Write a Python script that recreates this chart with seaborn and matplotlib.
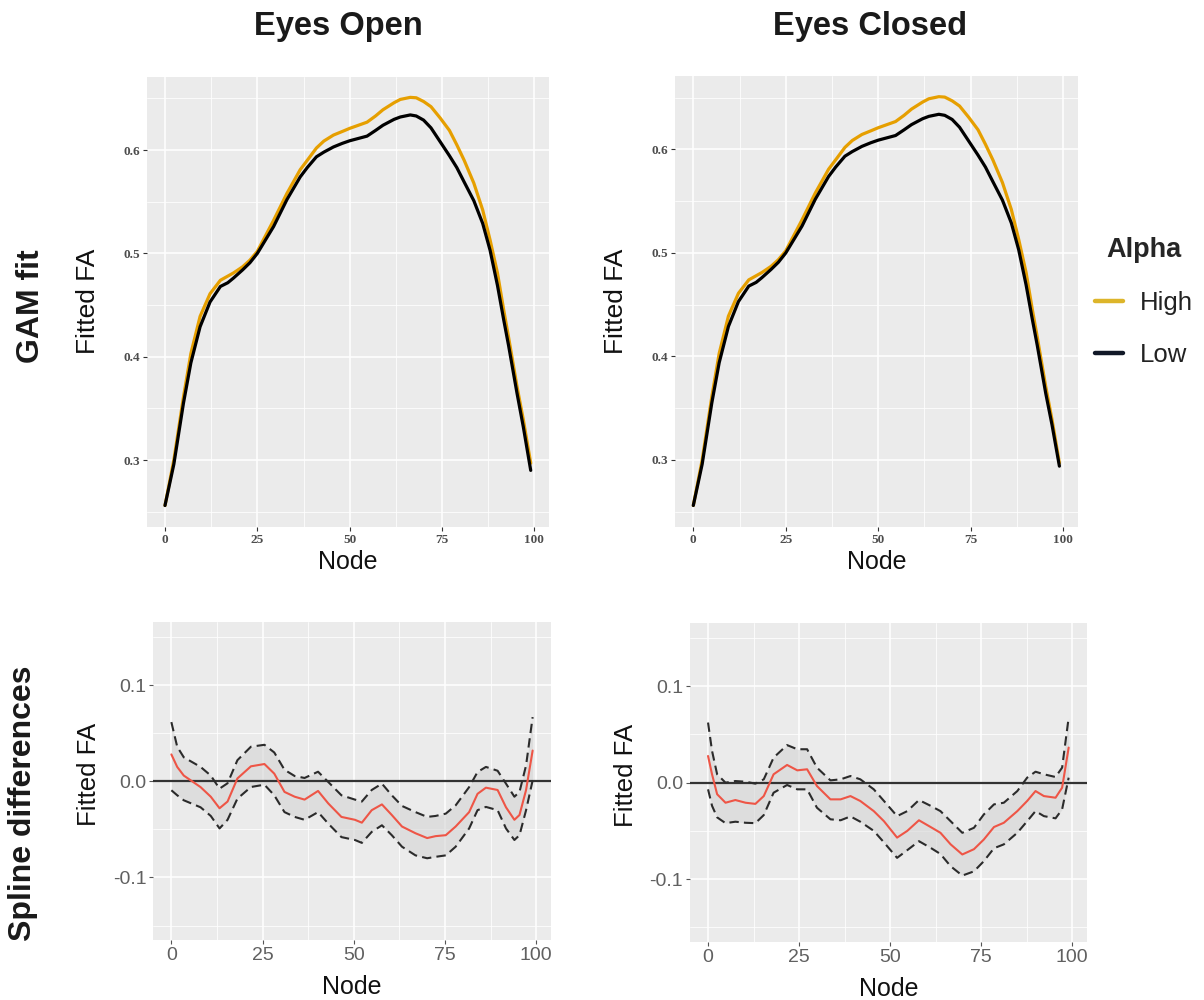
import numpy as np
import pandas as pd
import matplotlib
matplotlib.use("Agg")
import matplotlib.pyplot as plt
from matplotlib.lines import Line2D
from matplotlib.ticker import MultipleLocator
import seaborn as sns

# ---- GAM fits of FA along the tract (High vs Low alpha) ----
node_gam = [0, 2.4, 5, 7, 9.5, 12.2, 15, 17, 18.5, 21, 23, 25, 29.4, 33, 36.6, 38.5,
            41, 43, 45.6, 48, 50, 54.7, 57, 59, 62, 63.7, 66.4, 68, 70, 72, 74.5, 77,
            79, 81, 83.6, 86, 88, 90, 91.7, 93, 95.3, 97, 99]
open_high = [0.256, 0.300, 0.361, 0.403, 0.439, 0.461, 0.474, 0.478, 0.481, 0.487,
             0.4935, 0.502, 0.532, 0.558, 0.581, 0.590, 0.602, 0.6087, 0.6145, 0.618,
             0.621, 0.627, 0.633, 0.639, 0.6458, 0.649, 0.651, 0.6506, 0.647, 0.642,
             0.631, 0.619, 0.605, 0.590, 0.568, 0.542, 0.513, 0.481, 0.445, 0.419,
             0.371, 0.339, 0.297]
open_low = [0.256, 0.296, 0.355, 0.394, 0.429, 0.453, 0.468, 0.4716, 0.476, 0.484,
            0.491, 0.500, 0.526, 0.552, 0.574, 0.583, 0.5935, 0.598, 0.603, 0.6065,
            0.609, 0.6135, 0.619, 0.624, 0.6297, 0.632, 0.634, 0.633, 0.629, 0.6215,
            0.608, 0.5945, 0.583, 0.569, 0.551, 0.529, 0.503, 0.469, 0.4355, 0.411,
            0.3645, 0.332, 0.290]
closed_high = [0.256, 0.300, 0.361, 0.403, 0.439, 0.461, 0.474, 0.478, 0.481, 0.487,
               0.4935, 0.502, 0.532, 0.558, 0.581, 0.590, 0.602, 0.6087, 0.6145, 0.618,
               0.621, 0.627, 0.633, 0.639, 0.6458, 0.649, 0.651, 0.6506, 0.647, 0.642,
               0.631, 0.619, 0.605, 0.590, 0.568, 0.542, 0.513, 0.481, 0.445, 0.419,
               0.371, 0.339, 0.297]
closed_low = [0.256, 0.296, 0.355, 0.394, 0.429, 0.453, 0.468, 0.4716, 0.476, 0.484,
              0.491, 0.500, 0.526, 0.552, 0.574, 0.583, 0.5935, 0.598, 0.603, 0.6065,
              0.609, 0.6135, 0.619, 0.624, 0.6297, 0.632, 0.634, 0.633, 0.629, 0.6215,
              0.608, 0.5945, 0.583, 0.569, 0.551, 0.529, 0.503, 0.469, 0.4355, 0.411,
              0.3645, 0.334, 0.294]

# ---- Spline differences (High - Low) with confidence band ----
node_diff_open = [0, 1.6, 3.4, 8.0, 10.8, 13.2, 15.4, 18.1, 21.8, 25.5, 28.2, 31.0,
                  33.8, 36.5, 40.2, 43.0, 46.6, 50.3, 52.2, 54.9, 57.7, 60.4, 63.2,
                  66.9, 70.1, 72.4, 75.2, 77.9, 81.6, 83.9, 86.2, 89.4, 91.7, 94.0,
                  95.4, 97.2, 99]
open_diff = [0.028, 0.015, 0.006, -0.006, -0.016, -0.028, -0.021, 0.003, 0.0156,
             0.018, 0.008, -0.011, -0.016, -0.019, -0.010, -0.023, -0.037, -0.040,
             -0.043, -0.030, -0.024, -0.035, -0.047, -0.054, -0.059, -0.057, -0.056,
             -0.047, -0.032, -0.013, -0.0066, -0.009, -0.027, -0.040, -0.035,
             -0.009, 0.032]
open_upper = [0.0616, 0.036, 0.025, 0.015, 0.006, -0.0076, -0.002, 0.022, 0.036,
              0.038, 0.030, 0.012, 0.0055, 0.0035, 0.010, -0.0007, -0.0145, -0.019,
              -0.021, -0.009, -0.0024, -0.0145, -0.0256, -0.032, -0.037, -0.036,
              -0.0336, -0.025, -0.006, 0.0097, 0.015, 0.011, -0.0024, -0.016,
              -0.011, 0.0166, 0.0668]
open_lower = [-0.0093, -0.0145, -0.0197, -0.027, -0.036, -0.049, -0.040, -0.018,
              -0.0059, -0.0035, -0.0145, -0.032, -0.037, -0.040, -0.032, -0.044,
              -0.058, -0.061, -0.064, -0.0526, -0.0457, -0.056, -0.068, -0.077,
              -0.080, -0.0785, -0.077, -0.068, -0.049, -0.030, -0.0266, -0.030,
              -0.049, -0.061, -0.056, -0.030, 0.001]

node_diff_closed = [0, 1.1, 2.5, 4.8, 7.5, 10.3, 13.0, 15.3, 18.0, 21.7, 24.5, 27.2,
                    29.9, 33.6, 36.4, 39.1, 41.8, 45.5, 48.3, 51.9, 54.7, 57.9, 61.1,
                    63.8, 66.6, 69.8, 73.0, 75.7, 78.5, 81.2, 84.9, 87.6, 89.9, 92.2,
                    95.4, 97.2, 99]
closed_diff = [0.0277, 0.0087, -0.012, -0.0208, -0.018, -0.0208, -0.022, -0.0139,
               0.0087, 0.0184, 0.0128, 0.0139, -0.0035, -0.0173, -0.0173, -0.0139,
               -0.019, -0.0295, -0.040, -0.057, -0.050, -0.039, -0.046, -0.052,
               -0.064, -0.0745, -0.069, -0.059, -0.046, -0.0416, -0.0295, -0.019,
               -0.0087, -0.0139, -0.0156, -0.0052, 0.0364]
closed_upper = [0.0624, 0.033, 0.0087, 0.0, 0.0017, 0.001, -0.001, 0.0035, 0.026,
                0.039, 0.0347, 0.0347, 0.0156, 0.0024, 0.0035, 0.0069, 0.0035,
                -0.0069, -0.019, -0.0347, -0.0295, -0.018, -0.024, -0.0295, -0.040,
                -0.052, -0.0468, -0.033, -0.0225, -0.0208, -0.0087, 0.0052, 0.0114,
                0.0087, 0.0059, 0.0156, 0.0676]
closed_lower = [-0.0069, -0.024, -0.036, -0.042, -0.0405, -0.0416, -0.042, -0.0336,
                -0.0104, -0.0024, -0.0069, -0.0069, -0.026, -0.038, -0.039, -0.035,
                -0.0405, -0.050, -0.062, -0.078, -0.070, -0.0607, -0.0676, -0.074,
                -0.0867, -0.0964, -0.092, -0.0815, -0.068, -0.064, -0.052, -0.040,
                -0.0295, -0.0347, -0.037, -0.0277, 0.0052]

column_titles = ["Eyes Open", "Eyes Closed"]
row_titles = ["GAM fit", "Spline differences"]
group_labels = ["High", "Low"]
x_ticks = [0, 25, 50, 75, 100]
gam_y_ticks = [0.3, 0.4, 0.5, 0.6]
diff_y_ticks = [-0.1, 0.0, 0.1]
diff_y_labels = ["-0.1", "0.0", "0.1"]

# ---- styling ----
sns.set_theme(style="darkgrid", rc={
    "axes.facecolor": "#EBEBEB",
    "grid.color": "white",
    "axes.edgecolor": "none",
    "axes.unicode_minus": False,
    "lines.solid_joinstyle": "round",
    "lines.dash_joinstyle": "round",
})
plt.rcParams["font.family"] = ["Liberation Sans", "DejaVu Sans"]

line_colors = {"High": "#E69F00", "Low": "#000000"}
legend_colors = {"High": "#DDB52A", "Low": "#111827"}
red = "#EE5546"

fig = plt.figure(figsize=(12.04, 10.0), dpi=100)
W, H = 1204.0, 1000.0


def add_axes_px(left, top, right, bottom):
    return fig.add_axes([left / W, 1 - bottom / H, (right - left) / W, (bottom - top) / H])


ax_tl = add_axes_px(146.7, 76.7, 549.0, 526.7)
ax_tr = add_axes_px(675.0, 76.0, 1077.7, 526.7)
ax_bl = add_axes_px(153.3, 621.7, 550.7, 940.0)
ax_br = add_axes_px(690.0, 622.7, 1086.7, 941.7)


def style_grid(ax):
    ax.grid(which="major", color="white", linewidth=1.1)
    ax.grid(which="minor", color="white", linewidth=0.55)
    ax.xaxis.set_minor_locator(MultipleLocator(12.5))
    for s in ax.spines.values():
        s.set_visible(False)


# top row: GAM fits
for ax, high, low in [(ax_tl, open_high, open_low), (ax_tr, closed_high, closed_low)]:
    df = pd.DataFrame({
        "Node": node_gam * 2,
        "FA": high + low,
        "Alpha": ["High"] * len(node_gam) + ["Low"] * len(node_gam),
    })
    sns.lineplot(data=df, x="Node", y="FA", hue="Alpha", palette=line_colors,
                 linewidth=2.3, ax=ax, legend=False, sort=False)
    ax.set_xlim(-4.95, 103.95)
    ax.set_ylim(0.2355, 0.671)
    ax.set_xticks(x_ticks)
    ax.set_yticks(gam_y_ticks)
    ax.yaxis.set_minor_locator(MultipleLocator(0.05))
    style_grid(ax)
    ax.tick_params(axis="both", which="major", length=3, width=0.8, color="#333333",
                   labelsize=9.5, labelcolor="#4D4D4D", pad=2, left=True, bottom=True)
    ax.tick_params(which="minor", length=0)
    for t in ax.get_xticklabels() + ax.get_yticklabels():
        t.set_fontfamily("Liberation Serif")
        t.set_fontweight("bold")
    ax.set_xlabel("Node", fontsize=18, color="#111111")
    ax.set_ylabel("Fitted FA", fontsize=19, color="#111111")
    ax.xaxis.set_label_coords(0.5, -0.052)
    ax.yaxis.set_label_coords(-0.116, 0.5)

# bottom row: spline differences
for ax, nodes, d, up, lo in [(ax_bl, node_diff_open, open_diff, open_upper, open_lower),
                             (ax_br, node_diff_closed, closed_diff, closed_upper, closed_lower)]:
    ax.fill_between(nodes, lo, up, color="#D4D4D4", alpha=0.6, linewidth=0, zorder=2)
    ax.axhline(0, color="#333333", linewidth=1.6, zorder=3)
    band = pd.DataFrame({"Node": nodes, "upper": up, "lower": lo, "diff": d})
    sns.lineplot(data=band, x="Node", y="upper", ax=ax, color="#2B2B2B",
                 linewidth=1.5, linestyle=(0, (4.5, 2.5)), sort=False, zorder=4)
    sns.lineplot(data=band, x="Node", y="lower", ax=ax, color="#2B2B2B",
                 linewidth=1.5, linestyle=(0, (4.5, 2.5)), sort=False, zorder=4)
    sns.lineplot(data=band, x="Node", y="diff", ax=ax, color=red,
                 linewidth=1.5, sort=False, zorder=5)
    ax.set_xlim(-4.95, 103.95)
    ax.set_ylim(-0.165, 0.166)
    ax.set_xticks(x_ticks)
    ax.set_yticks(diff_y_ticks)
    ax.set_yticklabels(diff_y_labels)
    ax.yaxis.set_minor_locator(MultipleLocator(0.05))
    style_grid(ax)
    ax.tick_params(axis="both", which="major", length=3, width=0.8, color="#555555",
                   labelsize=14, labelcolor="#606060", pad=2, left=True, bottom=True)
    ax.tick_params(which="minor", length=0)
    ax.set_xlabel("Node", fontsize=18, color="#111111")
    ax.set_ylabel("Fitted FA", fontsize=18.5, color="#111111")
    ax.xaxis.set_label_coords(0.5, -0.11)
    ax.yaxis.set_label_coords(-0.132, 0.52)

# column and row titles
fig.text(338 / W, 1 - 26 / H, column_titles[0], ha="center", va="center",
         fontsize=23.5, fontweight="bold", color="#1A1A1A")
fig.text(870 / W, 1 - 26 / H, column_titles[1], ha="center", va="center",
         fontsize=23.5, fontweight="bold", color="#1A1A1A")
fig.text(31 / W, 1 - 306 / H, row_titles[0], ha="center", va="center", rotation=90,
         fontsize=23, fontweight="bold", color="#1A1A1A")
fig.text(23.5 / W, 1 - 803 / H, row_titles[1], ha="center", va="center", rotation=90,
         fontsize=23, fontweight="bold", color="#1A1A1A")

# legend
handles = [Line2D([0], [0], color=legend_colors[g], linewidth=3.2, solid_capstyle="round")
           for g in group_labels]
leg = fig.legend(handles, group_labels, title="Alpha", loc="upper left",
                 bbox_to_anchor=(1072 / W, 1 - 214 / H), frameon=False,
                 fontsize=18.5, title_fontproperties={"weight": "bold", "size": 19.5},
                 handlelength=1.1, handletextpad=0.65, labelspacing=1.08)
for t in leg.get_texts():
    t.set_color("#222222")

fig.savefig("out.png", dpi=100)
